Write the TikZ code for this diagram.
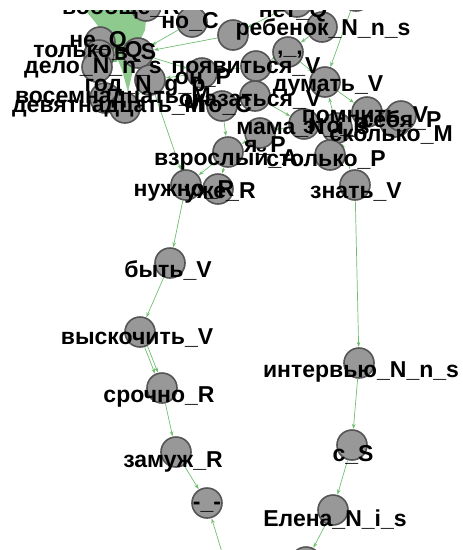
\documentclass[tikz,border=0pt]{standalone}
\usepackage{fontspec}
\setmainfont{Liberation Sans}
\usetikzlibrary{arrows.meta}

\definecolor{nodefill}{RGB}{152,152,152}
\definecolor{nodeedge}{RGB}{85,85,85}
\definecolor{edgegreen}{RGB}{112,190,112}
\definecolor{bundlegreen}{RGB}{142,202,142}

\tikzset{
  spot/.style={circle, minimum size=31pt, inner sep=0pt, outer sep=0.6pt, draw=none},
  disc/.style={circle, minimum size=30pt, inner sep=0pt, draw=nodeedge, fill=nodefill, line width=1.6pt},
  lbl/.style={anchor=base, inner sep=0pt, text=black, font=\bfseries\fontsize{23}{25}\selectfont},
  link/.style={draw=edgegreen, line width=0.7pt, -{Stealth[length=5pt,width=3.6pt]}},
}

\begin{document}
\begin{tikzpicture}[x=1pt,y=-1pt]
\useasboundingbox (0,0) rectangle (463,550);
\clip (0,10) rectangle (463,550);

% vertex positions
\node[spot] (t1) at (146,6) {};
\node[spot] (noC) at (192,22) {};
\node[spot] (iC) at (233,35) {};
\node[spot] (t2) at (297,2) {};
\node[spot] (reb) at (322,27) {};
\node[spot] (t3) at (356,-4) {};
\node[spot] (comma) at (288,52) {};
\node[spot] (neQ) at (100,42) {};
\node[spot] (tolQ) at (99,55) {};
\node[spot] (vS) at (138,53) {};
\node[spot] (delo) at (97,67) {};
\node[spot] (god) at (150,80) {};
\node[spot] (onP) at (202,73) {};
\node[spot] (poyav) at (256,66) {};
\node[spot] (dumat) at (325,82) {};
\node[spot] (okaz) at (255,96) {};
\node[spot] (chto) at (222,106) {};
\node[spot] (vos) at (105,98) {};
\node[spot] (dev) at (125,108) {};
\node[spot] (mama) at (304,124) {};
\node[spot] (pomn) at (367,112) {};
\node[spot] (skol) at (395,122) {};
\node[spot] (sebya) at (401,116) {};
\node[spot] (eto) at (337,128) {};
\node[spot] (yaP) at (260,133) {};
\node[spot] (vzr) at (228,152) {};
\node[spot] (stol) at (330,155) {};
\node[spot] (znat) at (355,185) {};
\node[spot] (nuzh) at (186,185) {};
\node[spot] (uzhe) at (218,189) {};
\node[spot] (byt) at (170,263) {};
\node[spot] (vysk) at (140,332) {};
\node[spot] (interv) at (359,363) {};
\node[spot] (sroch) at (162,388) {};
\node[spot] (zamuzh) at (176,452) {};
\node[spot] (dash) at (207,503) {};
\node[spot] (cS) at (352,445) {};
\node[spot] (elena) at (333,510) {};
\node[spot] (b1) at (306,562) {};
\node[spot] (b2) at (231,582) {};

% dense bundle of edges running into the upper left group
\fill[bundlegreen] (85,10) -- (147,10) -- (145,30) -- (138,45) -- (133,70)
  -- (128,92) -- (122,70) -- (112,45) -- (95,22) -- cycle;

% edges
\draw[link] (noC) -- (vS);
\draw[link] (iC) -- (vS);
\draw[link] (t2) -- (iC);
\draw[link] (reb) -- (comma);
\draw[link] (t3) -- (dumat);
\draw[link] (comma) -- (poyav);
\draw[link] (comma) -- (dumat);
\draw[link] (poyav) -- (onP);
\draw[link] (onP) -- (god);
\draw[link] (vS) -- (onP);
\draw[link] (vS) -- (delo);
\draw[link] (god) -- (dev);
\draw[link] (poyav) -- (okaz);
\draw[link] (okaz) -- (chto);
\draw[link] (chto) -- (vzr);
\draw[link] (okaz) -- (mama);
\draw[link] (dumat) -- (pomn);
\draw[link] (eto) -- (dumat);
\draw[link] (mama) -- (yaP);
\draw[link] (yaP) -- (vzr);
\draw[link] (vzr) -- (nuzh);
\draw[link] (vzr) -- (uzhe);
\draw[link] (god) -- (nuzh);
\draw[link] (znat) -- (eto);
\draw[link] (znat) -- (interv);
\draw[link] (nuzh) -- (byt);
\draw[link] (byt) -- (vysk);
\draw[link] (vysk.-62) -- (sroch.105);
\draw[link] (vysk.-73) -- (sroch.116);
\draw[link] (sroch) -- (zamuzh);
\draw[link] (zamuzh) -- (dash);
\draw[link] (b2) -- (dash);
\draw[link] (interv) -- (cS);
\draw[link] (cS) -- (elena);
\draw[link] (elena) -- (b1);

% vertex discs
\foreach \v in {t1,noC,iC,t2,reb,t3,comma,neQ,tolQ,vS,delo,god,onP,poyav,dumat,
  okaz,chto,vos,dev,mama,pomn,skol,sebya,eto,yaP,vzr,stol,znat,nuzh,uzhe,byt,
  vysk,interv,sroch,zamuzh,dash,cS,elena,b1,b2}
  \node[disc] (\v-d) at (\v) {};

% vertex labels
\node[lbl] (t1-l) at (121,14) {вообще\_R};
\node[lbl] (t2-l) at (293,17) {нет\_Q};
\node[lbl] (noC-l) at (190,28) {но\_C};
\node[lbl] (reb-l) at (323,35) {ребенок\_N\_n\_s};
\node[lbl] (comma-l) at (290,54) {,\_,};
\node[lbl] (neQ-l) at (98,47) {не\_Q};
\node[lbl] (tolQ-l) at (88,57) {только\_Q};
\node[lbl] (vS-l) at (135,59) {в\_S};
\node[lbl] (delo-l) at (93,73) {дело\_N\_n\_s};
\node[lbl] (god-l) at (145,91) {год\_N\_g\_p};
\node[lbl] (onP-l) at (203,84) {он\_P};
\node[lbl] (poyav-l) at (246,73) {появиться\_V};
\node[lbl] (dumat-l) at (328,91) {думать\_V};
\node[lbl] (okaz-l) at (250,106) {оказаться\_V};
\node[lbl] (chto-l) at (218,112) {что\_C};
\node[lbl] (vos-l) at (113,103) {восемнадцать\_M};
\node[lbl] (dev-l) at (108,112) {девятнадцать\_M};
\node[lbl] (mama-l) at (303,134) {мама\_N\_i\_s};
\node[lbl] (pomn-l) at (365,122) {помнить\_V};
\node[lbl] (sebya-l) at (401,127) {себя\_P};
\node[lbl] (eto-l) at (336,133) {это\_P};
\node[lbl] (skol-l) at (391,141) {сколько\_M};
\node[lbl] (yaP-l) at (265,152) {я\_P};
\node[lbl] (vzr-l) at (226,165) {взрослый\_A};
\node[lbl] (stol-l) at (326,166) {столько\_P};
\node[lbl] (nuzh-l) at (184,196) {нужно\_R};
\node[lbl] (uzhe-l) at (220,198) {уже\_R};
\node[lbl] (znat-l) at (356,198) {знать\_V};
\node[lbl] (byt-l) at (168,277) {быть\_V};
\node[lbl] (vysk-l) at (137,344) {выскочить\_V};
\node[lbl] (interv-l) at (361,377) {интервью\_N\_n\_s};
\node[lbl] (sroch-l) at (159,402) {срочно\_R};
\node[lbl] (zamuzh-l) at (173,467) {замуж\_R};
\node[lbl] (dash-l) at (207,509) {-\_-};
\node[lbl] (cS-l) at (353,461) {с\_S};
\node[lbl] (elena-l) at (335,526) {Елена\_N\_i\_s};
\end{tikzpicture}
\end{document}
